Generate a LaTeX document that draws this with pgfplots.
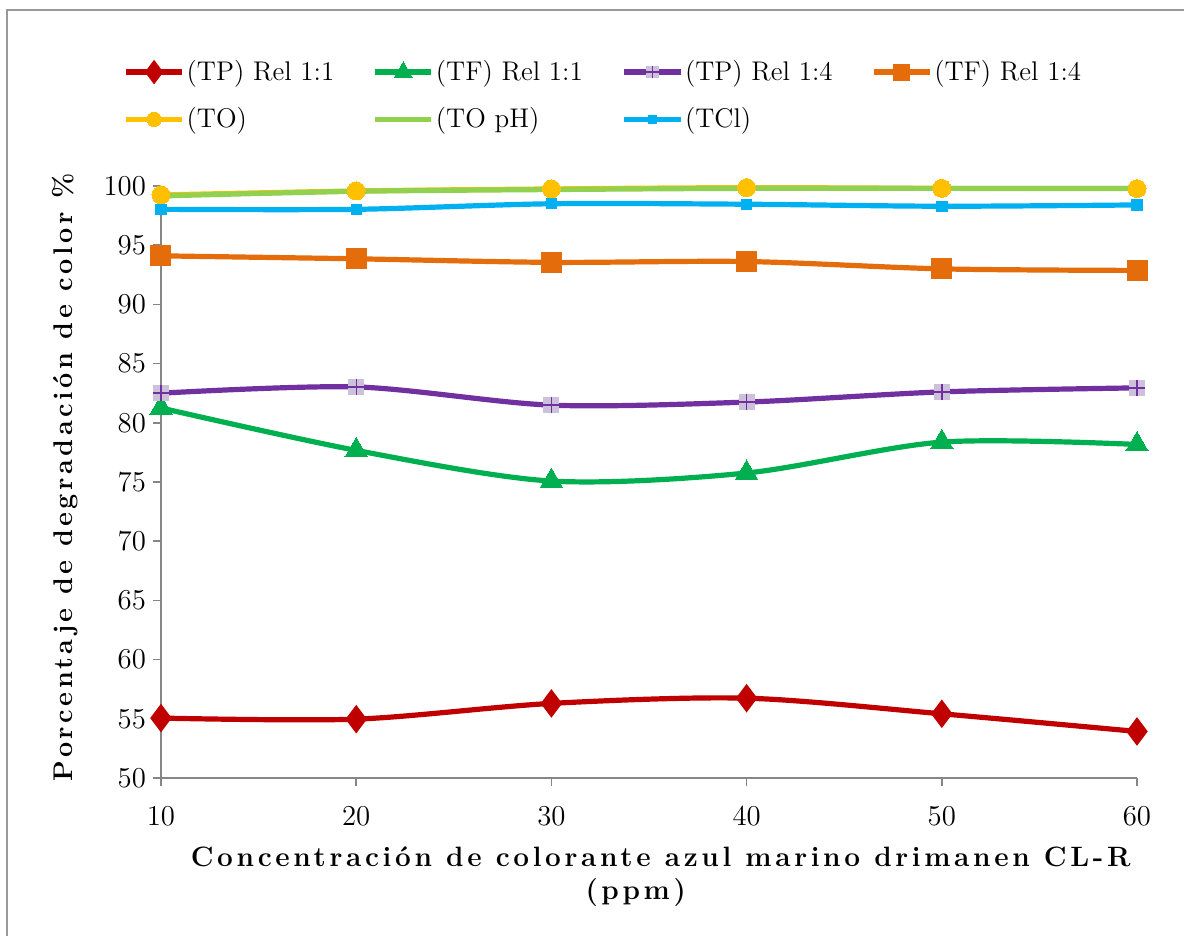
\documentclass[border=0pt]{standalone}
\usepackage{fontspec}
\usepackage{pgfplots}
\pgfplotsset{compat=1.18}
\newfontfamily\lblfont{Latin Modern Roman}[LetterSpace=13]

\definecolor{cTPa}{HTML}{C00000}
\definecolor{cTFa}{HTML}{00B050}
\definecolor{cTPb}{HTML}{7030A0}
\definecolor{cTPbfill}{HTML}{CCC0DA}
\definecolor{cTFb}{HTML}{E46C0A}
\definecolor{cTO}{HTML}{FFC000}
\definecolor{cTOpH}{HTML}{92D050}
\definecolor{cTCl}{HTML}{00B0F0}
\definecolor{axgray}{HTML}{868686}

% lavender square with a purple cross on it
\pgfdeclareplotmark{sqplus}{%
  \pgfpathrectangle{\pgfpoint{-\pgfplotmarksize}{-\pgfplotmarksize}}{\pgfpoint{2\pgfplotmarksize}{2\pgfplotmarksize}}%
  \pgfsetfillcolor{cTPbfill}\pgfusepath{fill}%
  \pgfsetlinewidth{0.7pt}\pgfsetstrokecolor{cTPb}%
  \pgfpathmoveto{\pgfpoint{-\pgfplotmarksize}{0pt}}\pgfpathlineto{\pgfpoint{\pgfplotmarksize}{0pt}}%
  \pgfpathmoveto{\pgfpoint{0pt}{-\pgfplotmarksize}}\pgfpathlineto{\pgfpoint{0pt}{\pgfplotmarksize}}%
  \pgfusepath{stroke}}

\newcommand{\legtext}[1]{\makebox[92pt][l]{#1}}

\begin{document}
\begin{tikzpicture}
\useasboundingbox (0,0) rectangle (592pt,468pt);
\draw[color=gray!80, line width=1pt] (3.5pt,0) -- (3.5pt,463pt) -- (592pt,463pt);
\begin{axis}[
  at={(80.5pt,79pt)}, anchor=south west,
  scale only axis, width=488pt, height=296pt,
  xmin=10, xmax=60, ymin=50, ymax=100,
  xtick={10,20,...,60}, ytick={50,55,...,100},
  axis x line=bottom, axis y line=left,
  axis line style={-, color=axgray, line width=0.8pt},
  tick style={color=axgray, line width=0.8pt},
  tick align=outside, major tick length=4pt,
  ticklabel style={font=\fontsize{14}{14}\selectfont},
  xticklabel style={yshift=-7pt},
  clip=false,
  every axis plot/.append style={line width=2.6pt, smooth, tension=0.5},
  xlabel={Concentración de colorante azul marino drimanen CL-R\\(ppm)\hspace*{25pt}},
  xlabel style={at={(axis description cs:0.512,-0.1664)}, anchor=center, align=center,
    font=\lblfont\bfseries\fontsize{14}{16.5}\selectfont},
  ylabel={Porcentaje de degradación de color \%},
  ylabel style={at={(axis description cs:-0.098,0.5076)}, anchor=center, rotate=0,
    font=\lblfont\bfseries\fontsize{13.5}{16}\selectfont},
  legend columns=4,
  legend style={at={(axis description cs:-0.045,1.2229)}, anchor=north west,
    draw=none, fill=none, font=\fontsize{13.5}{13.5}\selectfont,
    row sep=10pt, column sep=0pt, nodes={inner xsep=1pt, inner ysep=1pt}},
  legend image code/.code={%
    \draw[mark repeat=2, mark phase=2, #1, mark size=0.8*\pgfplotmarksize] plot coordinates {(0pt,0pt) (14pt,0pt) (28pt,0pt)};},
]
\addplot[color=cTPa, mark=diamond*, mark size=5pt, mark options={solid, fill=cTPa}]
  coordinates {(10,55.06) (20,54.97) (30,56.30) (40,56.74) (50,55.42) (60,53.93)};
\addlegendentry{\legtext{(TP) Rel 1:1}}
\addplot[color=cTFa, mark=triangle*, mark size=6.5pt, mark options={solid, fill=cTFa, line width=0pt}]
  coordinates {(10,81.25) (20,77.67) (30,75.08) (40,75.76) (50,78.37) (60,78.17)};
\addlegendentry{\legtext{(TF) Rel 1:1}}
\addplot[color=cTPb, mark=sqplus, mark size=4pt]
  coordinates {(10,82.50) (20,83.03) (30,81.49) (40,81.75) (50,82.61) (60,82.95)};
\addlegendentry{\legtext{(TP) Rel 1:4}}
\addplot[color=cTFb, mark=square*, mark size=5pt, mark options={solid, fill=cTFb, line width=0pt}]
  coordinates {(10,94.10) (20,93.85) (30,93.55) (40,93.62) (50,93.00) (60,92.87)};
\addlegendentry{\legtext{(TF) Rel 1:4}}
\addplot[color=cTO, mark=*, mark size=4.5pt, mark options={solid, fill=cTO, line width=0pt}]
  coordinates {(10,99.24) (20,99.58) (30,99.75) (40,99.86) (50,99.80) (60,99.78)};
\addlegendentry{\legtext{(TO)}}
\addplot[color=cTOpH, no markers]
  coordinates {(10,99.16) (20,99.55) (30,99.70) (40,99.80) (50,99.80) (60,99.80)};
\addlegendentry{\legtext{(TO pH)}}
\addplot[color=cTCl, mark=square*, mark size=2.6pt, mark options={solid, fill=cTCl, line width=0pt}]
  coordinates {(10,98.03) (20,98.03) (30,98.50) (40,98.46) (50,98.29) (60,98.40)};
\addlegendentry{\legtext{(TCl)}}
\end{axis}
\end{tikzpicture}
\end{document}
